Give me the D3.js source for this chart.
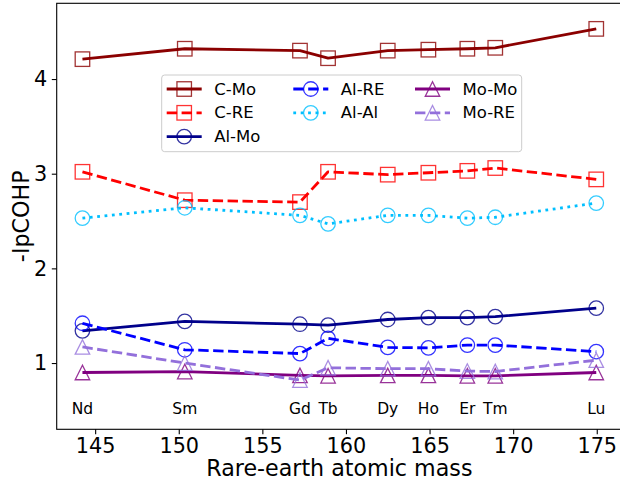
<!DOCTYPE html>
<html>
<head>
<meta charset="utf-8">
<script src="https://cdn.jsdelivr.net/npm/d3@7"></script>
<style>
  body { margin: 0; background: #fff; }
  text { font-family: "DejaVu Sans", sans-serif; }
</style>
</head>
<body>
<div id="res"></div>
<script>
/* values */
var elements = ["Nd", "Sm", "Gd", "Tb", "Dy", "Ho", "Er", "Tm", "Lu"];
var mass = [144.24, 150.36, 157.25, 158.93, 162.50, 164.93, 167.26, 168.93, 174.97];

var cMo  = [4.21, 4.32, 4.30, 4.22, 4.30, 4.31, 4.32, 4.33, 4.53];
var cRE  = [3.02, 2.72, 2.70, 3.02, 2.99, 3.01, 3.03, 3.06, 2.94];
var alMo = [1.34, 1.44, 1.41, 1.40, 1.46, 1.48, 1.48, 1.49, 1.58];
var alRE = [1.42, 1.14, 1.10, 1.26, 1.165, 1.16, 1.19, 1.19, 1.12];
var alAl = [2.53, 2.64, 2.56, 2.47, 2.56, 2.56, 2.53, 2.54, 2.69];
var moMo = [0.90, 0.91, 0.87, 0.865, 0.87, 0.87, 0.865, 0.865, 0.90];
var moRE = [1.17, 1.00, 0.82, 0.95, 0.94, 0.94, 0.915, 0.91, 1.03];

var seriesNames = ["C-Mo", "C-RE", "Al-Mo", "Al-RE", "Al-Al", "Mo-Mo", "Mo-RE"];
var xTicks = [145, 150, 155, 160, 165, 170, 175];
var yTicks = [1, 2, 3, 4];
var labelY = 0.46; // data height of element names

/* size and style */
var width = 620, height = 485;
var plotLeft = 56.7, plotRight = 622, plotTop = 3.3, plotBottom = 429.3;
var tickFont = 20.8, labelFont = 22.2, legendFont = 16.5, elemFont = 15.5;
var lw = 2.8, ms = 14.5;

var series = [
  {vals: cMo,  color: "#8b0000", dash: null,        shape: "square"},
  {vals: cRE,  color: "#ff0000", dash: "10.4,4.5",  shape: "square"},
  {vals: alMo, color: "#00008b", dash: null,        shape: "circle"},
  {vals: alRE, color: "#0000ff", dash: "10.4,4.5",  shape: "circle"},
  {vals: alAl, color: "#00bfff", dash: "2.8,4.6",   shape: "circle"},
  {vals: moMo, color: "#800080", dash: null,        shape: "triangle"},
  {vals: moRE, color: "#9370db", dash: "10.4,4.5",  shape: "triangle"}
];
series.forEach(function(s, i) { s.name = seriesNames[i]; });

var svg = d3.select("#res")
  .append("svg")
    .attr("width", width)
    .attr("height", height);

var x = d3.scaleLinear().domain([142.70, 176.51]).range([plotLeft, plotRight]);
var y = d3.scaleLinear().domain([0.3, 4.8]).range([plotBottom, plotTop]);

/* axes */
var xAxis = svg.append("g")
  .attr("transform", "translate(0," + plotBottom + ")")
  .call(d3.axisBottom(x).tickValues(xTicks).tickSize(4.9).tickPadding(4.5).tickFormat(d3.format("d")));
var yAxis = svg.append("g")
  .attr("transform", "translate(" + plotLeft + ",0)")
  .call(d3.axisLeft(y).tickValues(yTicks).tickSize(4.9).tickPadding(4.5).tickFormat(d3.format("d")));

[xAxis, yAxis].forEach(function(a) {
  a.select(".domain").remove();
  a.selectAll("line").attr("stroke", "#000").attr("stroke-width", 1.1);
  a.selectAll("text")
    .style("font-family", "DejaVu Sans")
    .style("font-size", tickFont + "px")
    .attr("fill", "#000");
});

/* frame */
svg.append("rect")
  .attr("x", plotLeft).attr("y", plotTop)
  .attr("width", plotRight - plotLeft).attr("height", plotBottom - plotTop)
  .attr("fill", "none").attr("stroke", "#000").attr("stroke-width", 1.1);

/* axis labels */
svg.append("text")
  .attr("x", (plotLeft + plotRight) / 2)
  .attr("y", 476)
  .attr("text-anchor", "middle")
  .style("font-size", labelFont + "px")
  .text("Rare-earth atomic mass");

svg.append("text")
  .attr("transform", "translate(29," + ((plotTop + plotBottom) / 2) + ") rotate(-90)")
  .attr("text-anchor", "middle")
  .style("font-size", labelFont + "px")
  .text("-IpCOHP");

/* element names */
elements.forEach(function(el, i) {
  svg.append("text")
    .attr("x", x(mass[i]))
    .attr("y", y(labelY))
    .attr("text-anchor", "middle")
    .style("font-size", elemFont + "px")
    .text(el);
});

function drawMarker(g, shape, cx, cy, color) {
  var m;
  if (shape === "square") {
    m = g.append("rect")
      .attr("x", cx - ms / 2).attr("y", cy - ms / 2)
      .attr("width", ms).attr("height", ms);
  } else if (shape === "circle") {
    m = g.append("circle").attr("cx", cx).attr("cy", cy).attr("r", ms / 2);
  } else {
    var h = ms / 2;
    m = g.append("path")
      .attr("d", "M" + cx + "," + (cy - h) + "L" + (cx - h) + "," + (cy + h) + "L" + (cx + h) + "," + (cy + h) + "Z");
  }
  m.attr("fill", "none")
    .attr("stroke", color)
    .attr("stroke-opacity", 0.8)
    .attr("stroke-width", 1.3);
}

/* lines and markers */
var line = d3.line()
  .x(function(d, i) { return x(mass[i]); })
  .y(function(d) { return y(d); });

series.forEach(function(s) {
  var g = svg.append("g");
  var p = g.append("path")
    .attr("d", line(s.vals))
    .attr("fill", "none")
    .attr("stroke", s.color)
    .attr("stroke-width", lw)
    .attr("stroke-linejoin", "round");
  if (s.dash) p.attr("stroke-dasharray", s.dash);
  s.vals.forEach(function(v, i) {
    drawMarker(g, s.shape, x(mass[i]), y(v), s.color);
  });
});

/* legend */
var lg = svg.append("g");
lg.append("rect")
  .attr("x", 161.7).attr("y", 75)
  .attr("width", 360).attr("height", 76.7)
  .attr("rx", 3).attr("ry", 3)
  .attr("fill", "#fff").attr("fill-opacity", 0.8)
  .attr("stroke", "#cccccc").attr("stroke-width", 1);

var colX = [166.7, 293.3, 415];
var rowY = [89, 112.8, 136.6];
var perCol = [3, 2, 2];
var k = 0;
perCol.forEach(function(n, c) {
  for (var r = 0; r < n; r++) {
    var s = series[k++];
    var x0 = colX[c], yy = rowY[r];
    var l = lg.append("line")
      .attr("x1", x0).attr("x2", x0 + 35)
      .attr("y1", yy).attr("y2", yy)
      .attr("stroke", s.color)
      .attr("stroke-width", lw);
    if (s.dash) l.attr("stroke-dasharray", s.dash);
    drawMarker(lg, s.shape, x0 + 17.5, yy, s.color);
    lg.append("text")
      .attr("x", x0 + 47.5)
      .attr("y", yy)
      .attr("dominant-baseline", "central")
      .style("font-size", legendFont + "px")
      .text(s.name);
  }
});
</script>
</body>
</html>
